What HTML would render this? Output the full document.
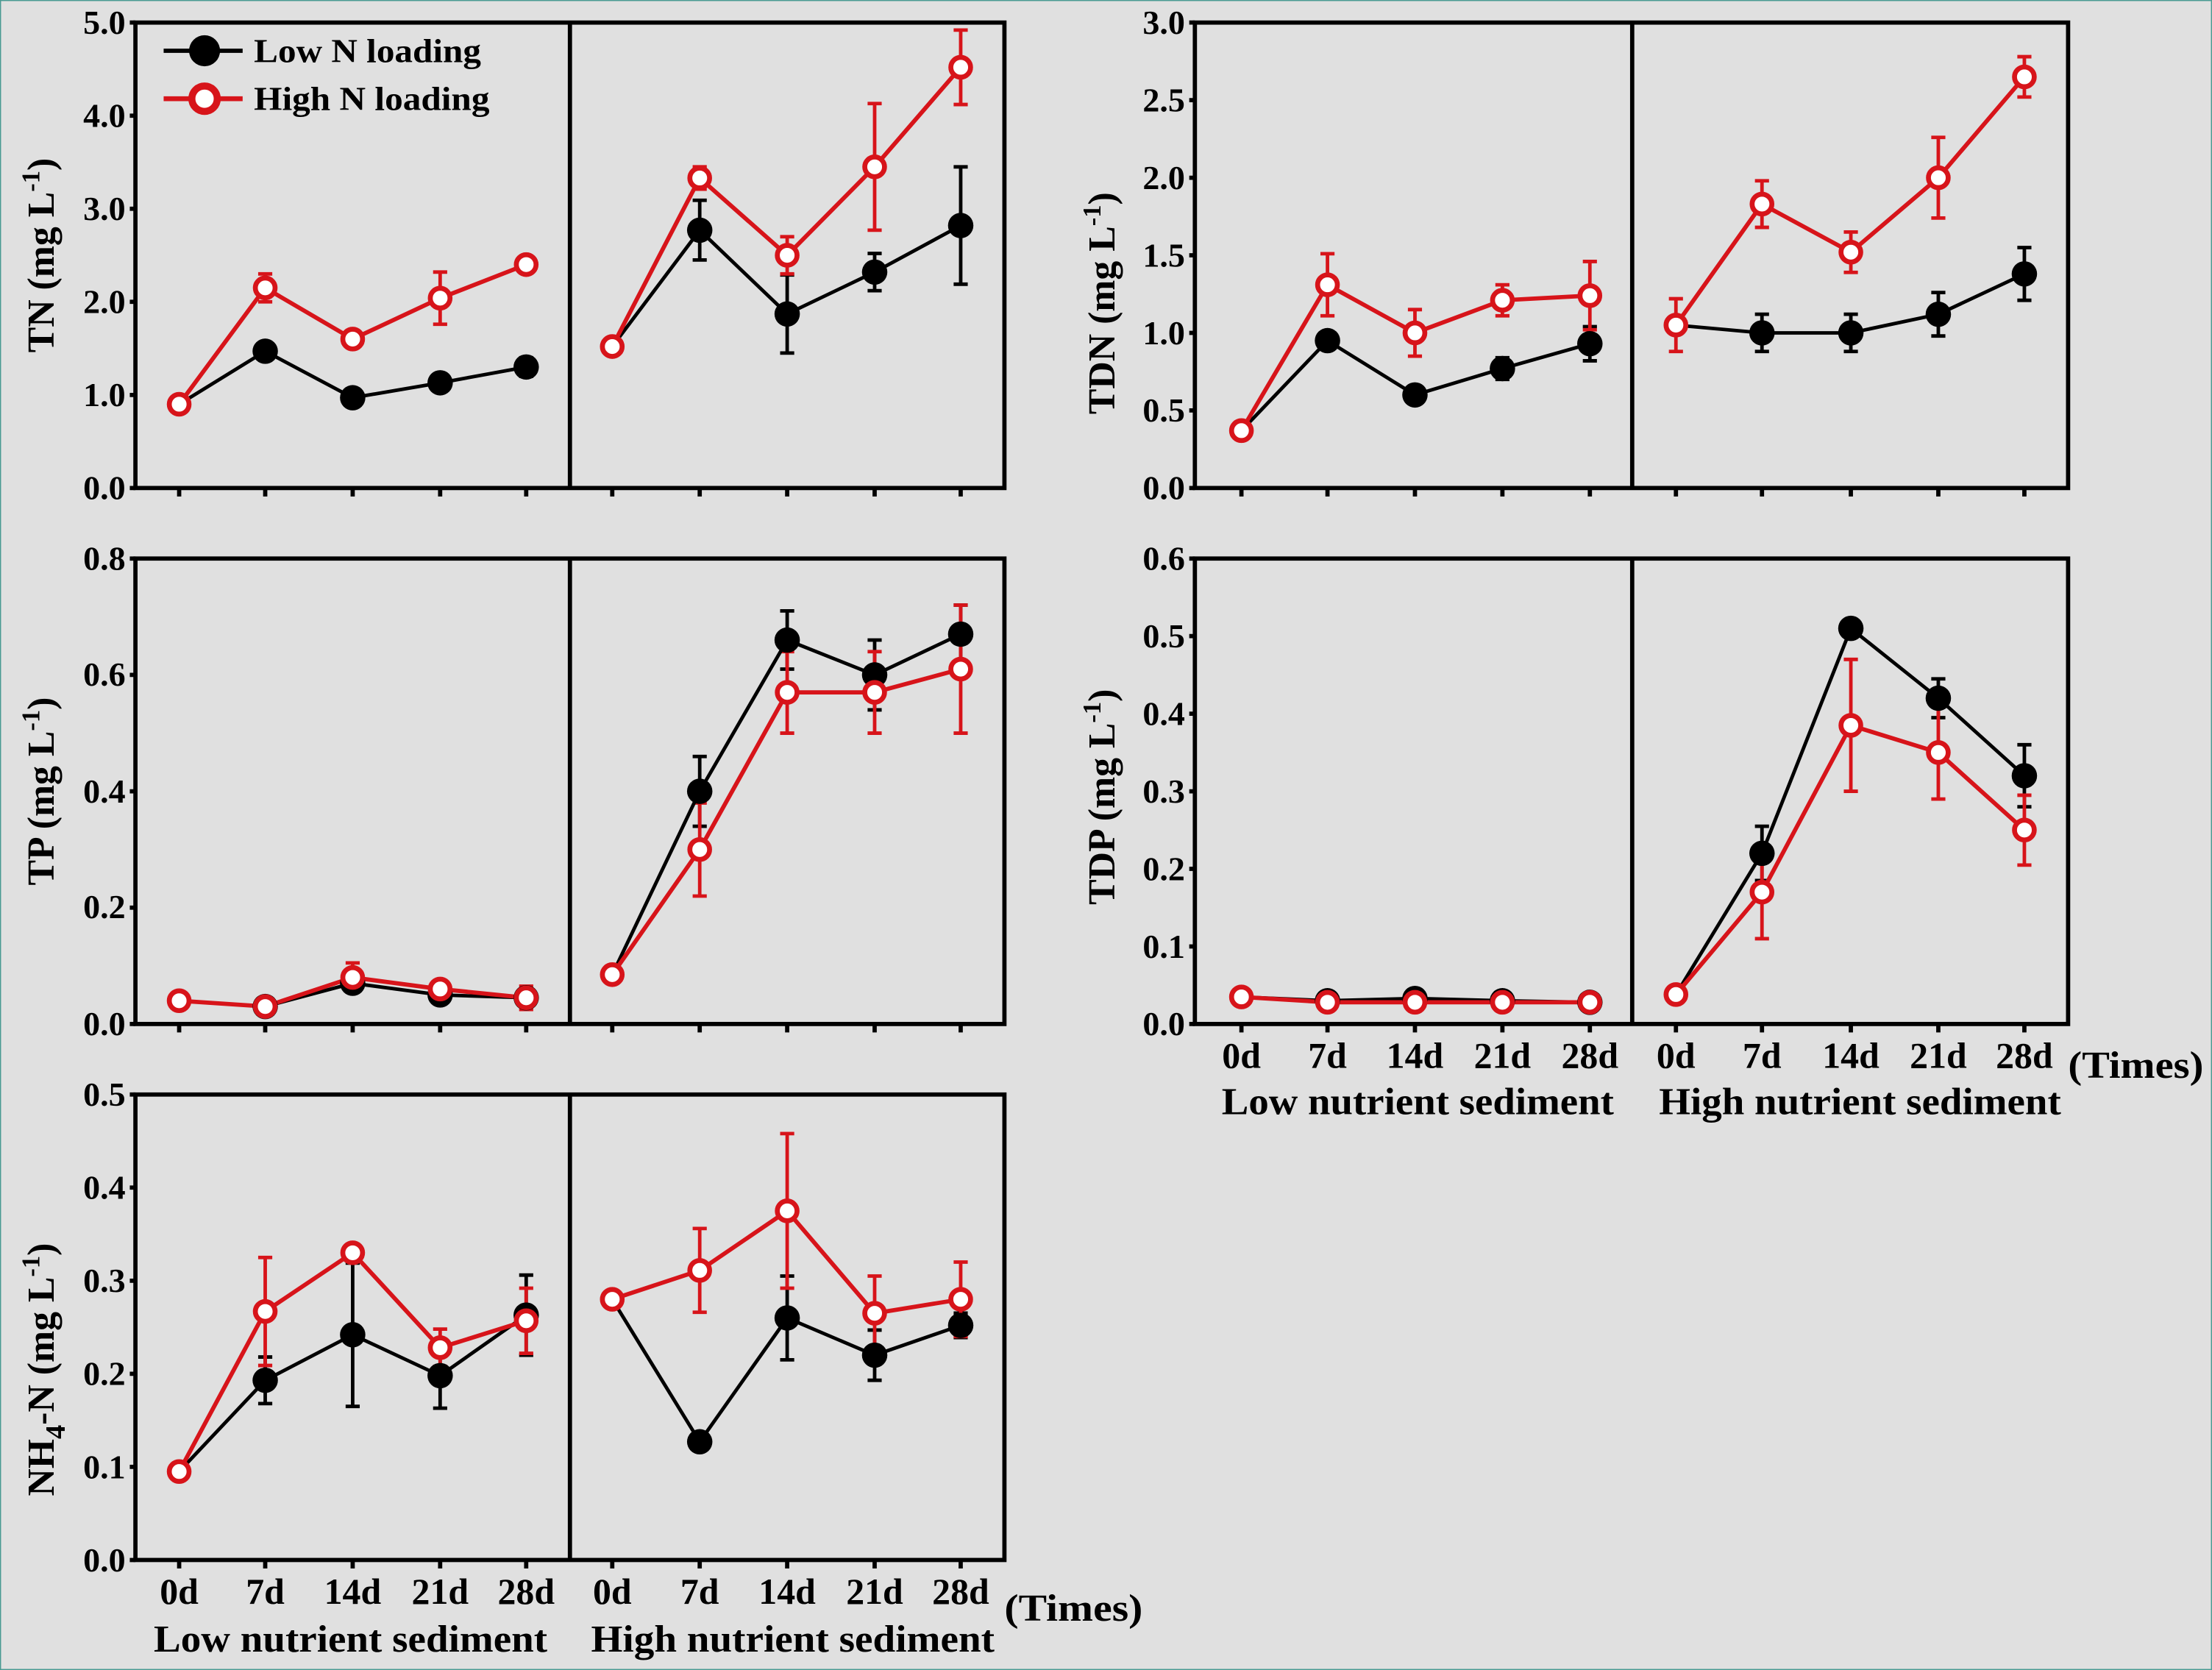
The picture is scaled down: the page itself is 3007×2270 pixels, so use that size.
<!DOCTYPE html>
<html><head><meta charset="utf-8"><style>
html,body{margin:0;padding:0;background:#e0e0e0;}
svg{display:block;}
text{font-family:"Liberation Serif",serif;font-weight:bold;fill:#000;}
.t{font-size:24px;}
.l{font-size:27px;}
.ax{fill:none;stroke:#000;stroke-width:3;}
.bk{fill:none;stroke:#000;stroke-width:2.5;}
.rd{fill:none;stroke:#d7141a;stroke-width:3;}
.eb{fill:none;stroke:#000;stroke-width:2.5;}
.er{fill:none;stroke:#d7141a;stroke-width:2.5;}
.bm{fill:#000;}
.rm{fill:#fff;stroke:#d7141a;stroke-width:3.5;}
</style></head><body>
<svg width="3007" height="2270" viewBox="0 0 1568 1184" preserveAspectRatio="none" xmlns="http://www.w3.org/2000/svg">
<rect x="0" y="0" width="1568" height="1184" fill="#e0e0e0" stroke="#4a9a92" stroke-width="1.5"/>

<!-- ================= TN ================= -->
<rect class="ax" x="96" y="16" width="616" height="330"/>
<line class="ax" x1="404" y1="16" x2="404" y2="346"/>
<path class="ax" d="M127 346v6M188 346v6M250 346v6M312 346v6M373 346v6M434 346v6M496 346v6M558 346v6M620 346v6M681 346v6M92 346h4M92 280h4M92 214h4M92 148h4M92 82h4M92 16h4"/>
<g class="t" text-anchor="end">
<text x="89" y="354">0.0</text><text x="89" y="288">1.0</text><text x="89" y="222">2.0</text><text x="89" y="156">3.0</text><text x="89" y="90">4.0</text><text x="89" y="24">5.0</text>
</g>
<text class="l" transform="translate(38,181) rotate(-90)" text-anchor="middle">TN (mg L<tspan dy="-10" font-size="18">-1</tspan><tspan dy="10">)</tspan></text>
<!-- errors -->
<path class="eb" d="M373 253.6v13.2M368 253.6h10M368 266.8h10 M496 142v42.3M491 142h10M491 184.3h10 M558 194.9v55.4M553 194.9h10M553 250.3h10 M620 179.7v26.4M615 179.7h10M615 206.1h10 M681 118.3v83.2M676 118.3h10M676 201.5h10"/>
<path class="er" d="M188 194.2v19.8M183 194.2h10M183 214h10 M312 192.9v37M307 192.9h10M307 229.9h10 M496 118.3v15.8M491 118.3h10M491 134.1h10 M558 167.8v26.4M553 167.8h10M553 194.2h10 M620 73.4v89.8M615 73.4h10M615 163.2h10 M681 21.3v52.8M676 21.3h10M676 74.1h10"/>
<polyline class="bk" points="127,286.6 188,249 250,282 312,271.4 373,260.2"/>
<polyline class="bk" points="434,245.7 496,163.2 558,222.6 620,192.9 681,159.9"/>
<polyline class="rd" points="127,286.6 188,204.1 250,240.4 312,211.4 373,187.6"/>
<polyline class="rd" points="434,245.7 496,126.2 558,181 620,118.3 681,47.7"/>
<g class="bm"><circle cx="188" cy="249" r="9"/><circle cx="250" cy="282" r="9"/><circle cx="312" cy="271.4" r="9"/><circle cx="373" cy="260.2" r="9"/><circle cx="496" cy="163.2" r="9"/><circle cx="558" cy="222.6" r="9"/><circle cx="620" cy="192.9" r="9"/><circle cx="681" cy="159.9" r="9"/></g>
<g class="rm"><circle cx="127" cy="286.6" r="7"/><circle cx="188" cy="204.1" r="7"/><circle cx="250" cy="240.4" r="7"/><circle cx="312" cy="211.4" r="7"/><circle cx="373" cy="187.6" r="7"/><circle cx="434" cy="245.7" r="7"/><circle cx="496" cy="126.2" r="7"/><circle cx="558" cy="181" r="7"/><circle cx="620" cy="118.3" r="7"/><circle cx="681" cy="47.7" r="7"/></g>
<!-- legend -->
<line x1="116" y1="36" x2="172" y2="36" stroke="#000" stroke-width="3"/><circle cx="145" cy="36" r="11" fill="#000"/>
<text class="t" x="180" y="44" textLength="161" lengthAdjust="spacingAndGlyphs">Low N loading</text>
<line x1="116" y1="70" x2="172" y2="70" stroke="#d7141a" stroke-width="3.5"/><circle cx="145" cy="70" r="9" fill="#fff" stroke="#d7141a" stroke-width="5"/>
<text class="t" x="180" y="78" textLength="167" lengthAdjust="spacingAndGlyphs">High N loading</text>

<!-- ================= TDN ================= -->
<rect class="ax" x="847" y="16" width="619" height="330"/>
<line class="ax" x1="1157" y1="16" x2="1157" y2="346"/>
<path class="ax" d="M880 346v6M941 346v6M1003 346v6M1065 346v6M1127 346v6M1188 346v6M1249 346v6M1312 346v6M1374 346v6M1435 346v6M843 346h4M843 291h4M843 236h4M843 181h4M843 126h4M843 71h4M843 16h4"/>
<g class="t" text-anchor="end">
<text x="840" y="354">0.0</text><text x="840" y="299">0.5</text><text x="840" y="244">1.0</text><text x="840" y="189">1.5</text><text x="840" y="134">2.0</text><text x="840" y="79">2.5</text><text x="840" y="24">3.0</text>
</g>
<text class="l" transform="translate(790,215) rotate(-90)" text-anchor="middle">TDN (mg L<tspan dy="-10" font-size="18">-1</tspan><tspan dy="10">)</tspan></text>
<path class="eb" d="M1065 253.6v15.4M1060 253.6h10M1060 269h10 M1127 231.6v24.2M1122 231.6h10M1122 255.8h10 M1249 222.8v26.4M1244 222.8h10M1244 249.2h10 M1312 222.8v26.4M1307 222.8h10M1307 249.2h10 M1374 207.4v30.8M1369 207.4h10M1369 238.2h10 M1435 175.5v37.4M1430 175.5h10M1430 212.9h10"/>
<path class="er" d="M941 179.9v44M936 179.9h10M936 223.9h10 M1003 219.5v33M998 219.5h10M998 252.5h10 M1065 201.9v22M1060 201.9h10M1060 223.9h10 M1127 185.4v48.4M1122 185.4h10M1122 233.8h10 M1188 211.8v37.4M1183 211.8h10M1183 249.2h10 M1249 128.2v33M1244 128.2h10M1244 161.2h10 M1312 164.5v28.6M1307 164.5h10M1307 193.1h10 M1374 97.4v57.2M1369 97.4h10M1369 154.6h10 M1435 40.2v28.6M1430 40.2h10M1430 68.8h10"/>
<polyline class="bk" points="880,305.3 941,241.5 1003,280 1065,261.3 1127,243.7"/>
<polyline class="bk" points="1188,230.5 1249,236 1312,236 1374,222.8 1435,194.2"/>
<polyline class="rd" points="880,305.3 941,201.9 1003,236 1065,212.9 1127,209.6"/>
<polyline class="rd" points="1188,230.5 1249,144.7 1312,178.8 1374,126 1435,54.5"/>
<g class="bm"><circle cx="941" cy="241.5" r="9"/><circle cx="1003" cy="280" r="9"/><circle cx="1065" cy="261.3" r="9"/><circle cx="1127" cy="243.7" r="9"/><circle cx="1249" cy="236" r="9"/><circle cx="1312" cy="236" r="9"/><circle cx="1374" cy="222.8" r="9"/><circle cx="1435" cy="194.2" r="9"/></g>
<g class="rm"><circle cx="880" cy="305.3" r="7"/><circle cx="941" cy="201.9" r="7"/><circle cx="1003" cy="236" r="7"/><circle cx="1065" cy="212.9" r="7"/><circle cx="1127" cy="209.6" r="7"/><circle cx="1188" cy="230.5" r="7"/><circle cx="1249" cy="144.7" r="7"/><circle cx="1312" cy="178.8" r="7"/><circle cx="1374" cy="126" r="7"/><circle cx="1435" cy="54.5" r="7"/></g>

<!-- ================= TP ================= -->
<rect class="ax" x="96" y="396" width="616" height="330"/>
<line class="ax" x1="404" y1="396" x2="404" y2="726"/>
<path class="ax" d="M127 726v6M188 726v6M250 726v6M312 726v6M373 726v6M434 726v6M496 726v6M558 726v6M620 726v6M681 726v6M92 726h4M92 643.5h4M92 561h4M92 478.5h4M92 396h4"/>
<g class="t" text-anchor="end">
<text x="89" y="734">0.0</text><text x="89" y="651">0.2</text><text x="89" y="569">0.4</text><text x="89" y="486">0.6</text><text x="89" y="404">0.8</text>
</g>
<text class="l" transform="translate(38,561) rotate(-90)" text-anchor="middle">TP (mg L<tspan dy="-10" font-size="18">-1</tspan><tspan dy="10">)</tspan></text>
<path class="eb" d="M496 536.3v49.5M491 536.3h10M491 585.8h10 M558 433.1v41.3M553 433.1h10M553 474.4h10 M620 453.8v49.5M615 453.8h10M615 503.3h10 M681 429v41.3M676 429h10M676 470.3h10"/>
<path class="er" d="M250 682.7v20.6M245 682.7h10M245 703.3h10 M373 699.2v16.5M368 699.2h10M368 715.7h10 M496 569.3v66M491 569.3h10M491 635.3h10 M558 462v57.8M553 462h10M553 519.8h10 M620 462v57.8M615 462h10M615 519.8h10 M681 429v90.8M676 429h10M676 519.8h10"/>
<polyline class="bk" points="127,709.5 188,713.6 250,697.1 312,705.4 373,707.4"/>
<polyline class="bk" points="434,691 496,561 558,453.8 620,478.5 681,449.6"/>
<polyline class="rd" points="127,709.5 188,713.6 250,693 312,701.2 373,707.4"/>
<polyline class="rd" points="434,691 496,602.3 558,490.9 620,490.9 681,474.4"/>
<g class="bm"><circle cx="188" cy="713.6" r="9"/><circle cx="250" cy="697.1" r="9"/><circle cx="312" cy="705.4" r="9"/><circle cx="373" cy="707.4" r="9"/><circle cx="496" cy="561" r="9"/><circle cx="558" cy="453.8" r="9"/><circle cx="620" cy="478.5" r="9"/><circle cx="681" cy="449.6" r="9"/></g>
<g class="rm"><circle cx="127" cy="709.5" r="7"/><circle cx="188" cy="713.6" r="7"/><circle cx="250" cy="693" r="7"/><circle cx="312" cy="701.2" r="7"/><circle cx="373" cy="707.4" r="7"/><circle cx="434" cy="691" r="7"/><circle cx="496" cy="602.3" r="7"/><circle cx="558" cy="490.9" r="7"/><circle cx="620" cy="490.9" r="7"/><circle cx="681" cy="474.4" r="7"/></g>

<!-- ================= TDP ================= -->
<rect class="ax" x="847" y="396" width="619" height="330"/>
<line class="ax" x1="1157" y1="396" x2="1157" y2="726"/>
<path class="ax" d="M880 726v6M941 726v6M1003 726v6M1065 726v6M1127 726v6M1188 726v6M1249 726v6M1312 726v6M1374 726v6M1435 726v6M843 726h4M843 671h4M843 616h4M843 561h4M843 506h4M843 451h4M843 396h4"/>
<g class="t" text-anchor="end">
<text x="840" y="734">0.0</text><text x="840" y="679">0.1</text><text x="840" y="624">0.2</text><text x="840" y="569">0.3</text><text x="840" y="514">0.4</text><text x="840" y="459">0.5</text><text x="840" y="404">0.6</text>
</g>
<text class="l" transform="translate(790,565) rotate(-90)" text-anchor="middle">TDP (mg L<tspan dy="-10" font-size="18">-1</tspan><tspan dy="10">)</tspan></text>
<path class="eb" d="M1249 585.8v38.5M1244 585.8h10M1244 624.3h10 M1374 481.3v27.5M1369 481.3h10M1369 508.8h10 M1435 528v44M1430 528h10M1430 572h10"/>
<path class="er" d="M1249 599.5v66M1244 599.5h10M1244 665.5h10 M1312 467.5v93.5M1307 467.5h10M1307 561h10 M1374 500.5v66M1369 500.5h10M1369 566.5h10 M1435 563.8v49.5M1430 563.8h10M1430 613.3h10"/>
<polyline class="bk" points="880,706.8 941,709.5 1003,707.9 1065,709.5 1127,710.6"/>
<polyline class="bk" points="1188,705.1 1249,605 1312,445.5 1374,495 1435,550"/>
<polyline class="rd" points="880,706.8 941,710.6 1003,710.6 1065,710.6 1127,710.6"/>
<polyline class="rd" points="1188,705.1 1249,632.5 1312,514.3 1374,533.5 1435,588.5"/>
<g class="bm"><circle cx="941" cy="709.5" r="9"/><circle cx="1003" cy="707.9" r="9"/><circle cx="1065" cy="709.5" r="9"/><circle cx="1127" cy="710.6" r="9"/><circle cx="1249" cy="605" r="9"/><circle cx="1312" cy="445.5" r="9"/><circle cx="1374" cy="495" r="9"/><circle cx="1435" cy="550" r="9"/></g>
<g class="rm"><circle cx="880" cy="706.8" r="7"/><circle cx="941" cy="710.6" r="7"/><circle cx="1003" cy="710.6" r="7"/><circle cx="1065" cy="710.6" r="7"/><circle cx="1127" cy="710.6" r="7"/><circle cx="1188" cy="705.1" r="7"/><circle cx="1249" cy="632.5" r="7"/><circle cx="1312" cy="514.3" r="7"/><circle cx="1374" cy="533.5" r="7"/><circle cx="1435" cy="588.5" r="7"/></g>
<g class="t" text-anchor="middle" style="font-size:26px">
<text x="880" y="757">0d</text><text x="941" y="757">7d</text><text x="1003" y="757">14d</text><text x="1065" y="757">21d</text><text x="1127" y="757">28d</text>
<text x="1188" y="757">0d</text><text x="1249" y="757">7d</text><text x="1312" y="757">14d</text><text x="1374" y="757">21d</text><text x="1435" y="757">28d</text>
</g>
<text class="l" x="1466" y="764" textLength="96" lengthAdjust="spacingAndGlyphs">(Times)</text>
<text class="l" x="866" y="790" textLength="278" lengthAdjust="spacingAndGlyphs">Low nutrient sediment</text>
<text class="l" x="1176" y="790" textLength="285" lengthAdjust="spacingAndGlyphs">High nutrient sediment</text>

<!-- ================= NH4 ================= -->
<rect class="ax" x="96" y="776" width="616" height="330"/>
<line class="ax" x1="404" y1="776" x2="404" y2="1106"/>
<path class="ax" d="M127 1106v6M188 1106v6M250 1106v6M312 1106v6M373 1106v6M434 1106v6M496 1106v6M558 1106v6M620 1106v6M681 1106v6M92 1106h4M92 1040h4M92 974h4M92 908h4M92 842h4M92 776h4"/>
<g class="t" text-anchor="end">
<text x="89" y="1114">0.0</text><text x="89" y="1048">0.1</text><text x="89" y="982">0.2</text><text x="89" y="916">0.3</text><text x="89" y="850">0.4</text><text x="89" y="784">0.5</text>
</g>
<text class="l" transform="translate(38,971) rotate(-90)" text-anchor="middle">NH<tspan dy="8" font-size="20">4</tspan><tspan dy="-8">-N (mg L</tspan><tspan dy="-10" font-size="18">-1</tspan><tspan dy="10">)</tspan></text>
<path class="eb" d="M188 962.1v33M183 962.1h10M183 995.1h10 M250 895.5v101.6M245 895.5h10M245 997.1h10 M312 952.2v46.2M307 952.2h10M307 998.4h10 M373 904v56.8M368 904h10M368 960.8h10 M558 904.7v59.4M553 904.7h10M553 964.1h10 M620 943v35.6M615 943h10M615 978.6h10 M681 931v17.3M676 931h10M676 948.3h10"/>
<path class="er" d="M188 891.5v76.6M183 891.5h10M183 968.1h10 M312 942.3v26.4M307 942.3h10M307 968.7h10 M373 913.3v46.2M368 913.3h10M368 959.5h10 M496 871v59.4M491 871h10M491 930.4h10 M558 803.7v109.6M553 803.7h10M553 913.3h10 M620 904.7v52.8M615 904.7h10M615 957.5h10 M681 894.8v52.8M676 894.8h10M676 947.6h10"/>
<polyline class="bk" points="127,1043.3 188,978.6 250,946.3 312,975.3 373,932.4"/>
<polyline class="bk" points="434,921.2 496,1022.2 558,934.4 620,960.8 681,939.7"/>
<polyline class="rd" points="127,1043.3 188,929.8 250,888.2 312,955.5 373,936.4"/>
<polyline class="rd" points="434,921.2 496,900.7 558,858.5 620,931.1 681,921.2"/>
<g class="bm"><circle cx="188" cy="978.6" r="9"/><circle cx="250" cy="946.3" r="9"/><circle cx="312" cy="975.3" r="9"/><circle cx="373" cy="932.4" r="9"/><circle cx="496" cy="1022.2" r="9"/><circle cx="558" cy="934.4" r="9"/><circle cx="620" cy="960.8" r="9"/><circle cx="681" cy="939.7" r="9"/></g>
<g class="rm"><circle cx="127" cy="1043.3" r="7"/><circle cx="188" cy="929.8" r="7"/><circle cx="250" cy="888.2" r="7"/><circle cx="312" cy="955.5" r="7"/><circle cx="373" cy="936.4" r="7"/><circle cx="434" cy="921.2" r="7"/><circle cx="496" cy="900.7" r="7"/><circle cx="558" cy="858.5" r="7"/><circle cx="620" cy="931.1" r="7"/><circle cx="681" cy="921.2" r="7"/></g>
<g class="t" text-anchor="middle" style="font-size:26px">
<text x="127" y="1137">0d</text><text x="188" y="1137">7d</text><text x="250" y="1137">14d</text><text x="312" y="1137">21d</text><text x="373" y="1137">28d</text>
<text x="434" y="1137">0d</text><text x="496" y="1137">7d</text><text x="558" y="1137">14d</text><text x="620" y="1137">21d</text><text x="681" y="1137">28d</text>
</g>
<text class="l" x="712" y="1149" textLength="98" lengthAdjust="spacingAndGlyphs">(Times)</text>
<text class="l" x="109" y="1171" textLength="279" lengthAdjust="spacingAndGlyphs">Low nutrient sediment</text>
<text class="l" x="419" y="1171" textLength="286" lengthAdjust="spacingAndGlyphs">High nutrient sediment</text>
</svg>
</body></html>
